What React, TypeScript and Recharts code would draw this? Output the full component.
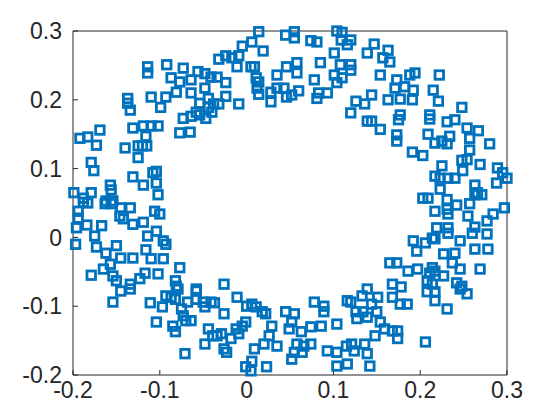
import React from "react";
import { ScatterChart, Scatter, XAxis, YAxis } from "recharts";

const topArc: [number, number][] = [
  [-0.114, 0.248], [-0.114, 0.239], [-0.092, 0.251], [-0.073, 0.246], [-0.056, 0.241],
  [-0.048, 0.238], [-0.041, 0.233], [-0.087, 0.232], [-0.077, 0.226], [-0.064, 0.229],
  [-0.048, 0.217], [-0.081, 0.211], [-0.093, 0.204], [-0.11, 0.204], [-0.137, 0.202],
  [-0.137, 0.195], [-0.134, 0.185], [-0.099, 0.189], [-0.064, 0.21], [-0.054, 0.195],
  [-0.044, 0.202], [-0.044, 0.189], [-0.038, 0.194], [-0.058, 0.182], [-0.04, 0.182],
  [-0.047, 0.173],
  [0.014, 0.299], [0.045, 0.294], [0.055, 0.299], [0.055, 0.29], [0.104, 0.3],
  [0.11, 0.298], [0.109, 0.287], [0.12, 0.287], [0.116, 0.28], [0.074, 0.286],
  [0.081, 0.284], [0.006, 0.284], [-0.005, 0.278], [0.019, 0.271], [-0.032, 0.259],
  [-0.024, 0.264], [-0.017, 0.261], [-0.009, 0.264], [-0.011, 0.248], [0.005, 0.248],
  [0.009, 0.248], [0.011, 0.232], [0.014, 0.226], [0.012, 0.217], [0.014, 0.208],
  [-0.034, 0.233], [-0.024, 0.225], [-0.024, 0.205], [-0.032, 0.194], [-0.009, 0.194],
  [0.028, 0.197], [0.028, 0.211], [0.035, 0.217], [0.035, 0.236], [0.046, 0.248],
  [0.058, 0.254], [0.058, 0.239], [0.043, 0.217], [0.052, 0.207], [0.046, 0.204],
  [0.06, 0.213], [0.078, 0.229], [0.085, 0.254], [0.101, 0.268], [0.108, 0.251],
  [0.101, 0.236], [0.11, 0.232], [0.104, 0.225], [0.12, 0.251], [0.12, 0.243],
  [0.081, 0.202], [0.093, 0.21], [0.083, 0.21], [0.126, 0.198], [0.12, 0.181],
  [0.147, 0.281], [0.139, 0.268], [0.157, 0.261], [0.163, 0.272], [0.165, 0.255],
  [0.154, 0.236], [0.173, 0.229], [0.188, 0.236], [0.194, 0.239], [0.222, 0.236],
  [0.171, 0.217], [0.182, 0.219], [0.192, 0.214], [0.215, 0.214], [0.144, 0.207],
  [0.136, 0.194], [0.163, 0.2], [0.177, 0.201], [0.191, 0.2], [0.221, 0.198],
  [0.248, 0.189], [0.177, 0.178], [0.211, 0.178],
];

const leftArc: [number, number][] = [
  [-0.192, 0.144], [-0.183, 0.146], [-0.169, 0.156], [-0.173, 0.134], [-0.14, 0.13],
  [-0.131, 0.159], [-0.119, 0.162], [-0.11, 0.162], [-0.102, 0.162], [-0.116, 0.147],
  [-0.125, 0.133], [-0.12, 0.133], [-0.115, 0.133], [-0.125, 0.116], [-0.077, 0.152],
  [-0.065, 0.153], [-0.073, 0.173], [-0.064, 0.176], [-0.054, 0.178], [-0.179, 0.109],
  [-0.176, 0.097], [-0.131, 0.088], [-0.119, 0.076], [-0.108, 0.094], [-0.104, 0.096],
  [-0.104, 0.079], [-0.102, 0.062], [-0.157, 0.076], [-0.156, 0.069], [-0.199, 0.065],
  [-0.188, 0.057], [-0.179, 0.065], [-0.162, 0.053], [-0.154, 0.053],
  [-0.188, 0.051], [-0.183, 0.05], [-0.163, 0.049], [-0.156, 0.049], [-0.145, 0.043],
  [-0.134, 0.043], [-0.146, 0.031], [-0.142, 0.027], [-0.194, 0.038], [-0.194, 0.028],
  [-0.196, 0.014], [-0.184, 0.018], [-0.167, 0.017], [-0.131, 0.019], [-0.119, 0.022],
  [-0.106, 0.038], [-0.1, 0.034], [-0.114, 0.002], [-0.104, 0.009], [-0.096, -0.005],
  [-0.093, -0.01], [-0.197, -0.01], [-0.175, 0.002], [-0.173, -0.014], [-0.162, -0.023],
  [-0.15, -0.012], [-0.145, -0.03], [-0.131, -0.03], [-0.116, -0.018], [-0.11, -0.031],
  [-0.096, -0.031], [-0.077, -0.044], [-0.157, -0.039], [-0.165, -0.046], [-0.179, -0.055],
  [-0.154, -0.056], [-0.15, -0.063], [-0.134, -0.068], [-0.123, -0.06], [-0.117, -0.052],
  [-0.102, -0.053], [-0.082, -0.063], [-0.081, -0.071], [-0.058, -0.075],
];

const rightArc: [number, number][] = [
  [0.139, 0.169], [0.144, 0.169], [0.154, 0.157], [0.175, 0.171], [0.211, 0.172],
  [0.231, 0.168], [0.24, 0.171], [0.254, 0.159], [0.267, 0.155], [0.173, 0.149],
  [0.173, 0.14], [0.209, 0.15], [0.217, 0.137], [0.225, 0.14], [0.231, 0.136],
  [0.234, 0.147], [0.257, 0.144], [0.28, 0.136], [0.191, 0.124], [0.203, 0.119],
  [0.257, 0.127], [0.254, 0.113], [0.248, 0.112], [0.269, 0.106], [0.225, 0.104],
  [0.217, 0.089], [0.223, 0.086], [0.232, 0.086], [0.24, 0.086], [0.249, 0.097],
  [0.289, 0.101], [0.295, 0.094], [0.3, 0.086], [0.288, 0.079], [0.263, 0.076],
  [0.266, 0.065], [0.223, 0.07], [0.203, 0.057], [0.209, 0.057], [0.231, 0.055],
  [0.263, 0.062], [0.271, 0.062],
  [0.217, 0.038], [0.231, 0.041], [0.242, 0.047], [0.257, 0.049], [0.255, 0.031],
  [0.232, 0.034], [0.297, 0.043], [0.284, 0.034], [0.277, 0.024], [0.263, 0.015],
  [0.26, 0.006], [0.219, 0.014], [0.232, 0.014], [0.232, 0.006], [0.214, -0.001],
  [0.217, -0.002], [0.192, -0.005], [0.196, -0.02], [0.206, -0.008], [0.246, -0.005],
  [0.277, 0.005], [0.227, -0.024], [0.24, -0.023], [0.263, -0.017], [0.278, -0.017],
  [0.165, -0.037], [0.173, -0.037], [0.186, -0.049], [0.197, -0.046], [0.214, -0.044],
  [0.211, -0.052], [0.217, -0.049], [0.237, -0.037], [0.246, -0.046], [0.269, -0.046],
  [0.227, -0.056], [0.168, -0.068], [0.178, -0.072], [0.208, -0.063], [0.214, -0.068],
  [0.242, -0.066], [0.248, -0.071], [0.139, -0.075],
];

const bottomArc: [number, number][] = [
  [-0.026, -0.068], [-0.145, -0.078], [-0.134, -0.075], [-0.154, -0.094], [-0.111, -0.095],
  [-0.097, -0.101], [-0.093, -0.085], [-0.087, -0.087], [-0.082, -0.09], [-0.079, -0.075],
  [-0.104, -0.123], [-0.085, -0.129], [-0.082, -0.137], [-0.075, -0.104], [-0.073, -0.114],
  [-0.07, -0.121], [-0.068, -0.094], [-0.064, -0.121], [-0.058, -0.078], [-0.058, -0.09],
  [-0.05, -0.094], [-0.048, -0.101], [-0.041, -0.094], [-0.044, -0.133], [-0.039, -0.143],
  [-0.048, -0.155], [-0.071, -0.169],
  [-0.026, -0.111], [-0.037, -0.095], [-0.011, -0.087], [0.0, -0.1], [0.006, -0.097],
  [0.011, -0.101], [0.018, -0.108], [0.022, -0.111], [-0.001, -0.123], [-0.005, -0.129],
  [-0.012, -0.133], [-0.009, -0.14], [-0.029, -0.14], [-0.034, -0.143], [-0.018, -0.147],
  [0.029, -0.129], [0.026, -0.143], [0.02, -0.155], [0.009, -0.162], [0.035, -0.158],
  [-0.026, -0.162], [-0.023, -0.167], [0.045, -0.108], [0.055, -0.111], [0.052, -0.123],
  [0.049, -0.133], [0.063, -0.137], [0.074, -0.13], [0.086, -0.129], [0.058, -0.155],
  [0.066, -0.158], [0.074, -0.155], [0.055, -0.167], [0.052, -0.177], [0.064, -0.167],
  [0.078, -0.094], [0.089, -0.1], [0.089, -0.108], [0.104, -0.126], [0.093, -0.165],
  [0.104, -0.167], [0.115, -0.158], [0.121, -0.155], [0.124, -0.165], [0.116, -0.184],
  [0.104, -0.187], [0.116, -0.092], [0.12, -0.094], [0.126, -0.108], [0.127, -0.118],
  [0.006, -0.18], [-0.001, -0.188], [0.005, -0.194], [0.023, -0.188],
  [0.133, -0.085], [0.144, -0.097], [0.151, -0.087], [0.168, -0.087], [0.177, -0.097],
  [0.185, -0.097], [0.134, -0.108], [0.139, -0.116], [0.15, -0.108], [0.154, -0.123],
  [0.159, -0.133], [0.148, -0.143], [0.168, -0.136], [0.174, -0.136], [0.174, -0.147],
  [0.136, -0.155], [0.139, -0.169], [0.142, -0.187], [0.206, -0.152], [0.231, -0.104],
  [0.217, -0.092], [0.217, -0.079], [0.208, -0.079], [0.246, -0.075], [0.254, -0.082],
];

const xTicks = [-0.2, -0.1, 0, 0.1, 0.2, 0.3];
const yTicks = [-0.2, -0.1, 0, 0.1, 0.2, 0.3];

const BLUE = "#0072BD";
const AXIS = "#262626";
const FONT = "'Liberation Sans', Arial, Helvetica, sans-serif";

const points = [...topArc, ...leftArc, ...rightArc, ...bottomArc].map(([x, y]) => ({ x, y }));

const fmt = (v: number) => String(Number(v.toFixed(1)));
const blank = () => "";

const Square = (props: any) => {
  const { cx, cy } = props;
  if (cx == null || cy == null) return null;
  return (
    <rect
      x={cx - 4.25}
      y={cy - 4.25}
      width={8.5}
      height={8.5}
      fill="none"
      stroke={BLUE}
      strokeWidth={2.8}
    />
  );
};

export default function App() {
  const tickStyle = { fontSize: 23, fontFamily: FONT, fill: AXIS };
  return (
    <div style={{ position: "absolute", left: 0, top: 0, width: 560, height: 420, background: "#fff" }}>
      <ScatterChart width={560} height={420} margin={{ top: 30, right: 52, bottom: 0, left: 0 }}>
        <XAxis
          xAxisId="b"
          dataKey="x"
          type="number"
          domain={[-0.2, 0.3]}
          ticks={xTicks}
          tickFormatter={fmt}
          height={45}
          tickSize={-5}
          tickMargin={12}
          stroke={AXIS}
          tick={tickStyle}
        />
        <XAxis
          xAxisId="t"
          orientation="top"
          dataKey="x"
          type="number"
          domain={[-0.2, 0.3]}
          ticks={xTicks}
          tickFormatter={blank}
          height={1}
          tickSize={-5}
          stroke={AXIS}
        />
        <YAxis
          yAxisId="l"
          dataKey="y"
          type="number"
          domain={[-0.2, 0.3]}
          ticks={yTicks}
          tickFormatter={fmt}
          width={73}
          tickSize={-5}
          tickMargin={16}
          stroke={AXIS}
          tick={tickStyle}
        />
        <YAxis
          yAxisId="r"
          orientation="right"
          dataKey="y"
          type="number"
          domain={[-0.2, 0.3]}
          ticks={yTicks}
          tickFormatter={blank}
          width={1}
          tickSize={-5}
          stroke={AXIS}
        />
        <Scatter
          xAxisId="b"
          yAxisId="l"
          data={points}
          shape={<Square />}
          isAnimationActive={false}
        />
      </ScatterChart>
    </div>
  );
}
